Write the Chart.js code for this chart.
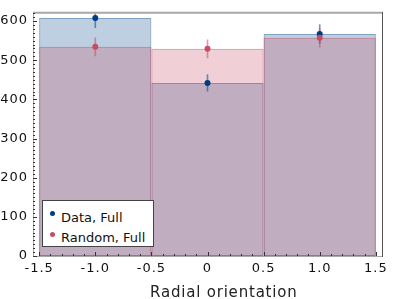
<!DOCTYPE html>
<html>
<head>
<meta charset="utf-8">
<script src="https://cdn.jsdelivr.net/npm/chart.js@4.4.0/dist/chart.umd.min.js"></script>
<style>
  body { margin: 0; background: #fff; }
  #wrap { position: relative; width: 399px; height: 299px; }
  #legend { position: absolute; left: 42px; top: 200px; width: 112px; height: 47px; box-sizing: border-box;
            border: 1px solid #444; background: #fff; font: 13px "DejaVu Sans"; color: #111; }
  .dot { position: absolute; left: 7px; width: 5px; height: 5px; border-radius: 50%; }
  .label { position: absolute; left: 18px; height: 16px; line-height: 16px; white-space: nowrap; }
  #xtitle { position: absolute; left: 150px; top: 283px; height: 18px; line-height: 18px; white-space: nowrap;
            font: 15px "DejaVu Sans"; letter-spacing: 0.8px; color: #222; }
</style>
</head>
<body>
<div id="wrap">
  <canvas id="chart" width="399" height="299"></canvas>
  <div id="xtitle">Radial orientation</div>
  <div id="legend">
    <div class="dot" style="top:10px; background:rgb(0,60,130)"></div>
    <div class="label" style="top:9px">Data, Full</div>
    <div class="dot" style="top:31px; background:rgb(200,76,102)"></div>
    <div class="label" style="top:29px">Random, Full</div>
  </div>
</div>
<script>
const binCenters = [-1.0, 0.0, 1.0];
const dataCounts = [608, 442, 567];
const dataErrors = [25, 21, 24];
const randomCounts = [534, 529, 557];
const randomErrors = [23, 23, 24];
const xTicks = [-1.5, -1.0, -0.5, 0, 0.5, 1.0, 1.5];
const yTicks = [0, 100, 200, 300, 400, 500, 600];

const fontFamily = 'DejaVu Sans';
const textColor = '#111';

// tick spacing is 0.5 and the bin width is 1, so bars are asked for twice the ruler size
const histBar = (label, counts, fill, border, order) => ({
    type: 'bar',
    label: label,
    order: order,
    data: binCenters.map((c, i) => ({ x: c, y: counts[i] })),
    backgroundColor: fill,
    borderColor: border,
    borderWidth: 1,
    borderSkipped: false,
    grouped: false,
    barPercentage: 2,
    categoryPercentage: 1
});

const errorBar = (counts, errors, color, order) => ({
    type: 'bar',
    order: order,
    data: binCenters.map((c, i) => ({ x: c, y: [counts[i] - errors[i], counts[i] + errors[i]] })),
    backgroundColor: color,
    borderWidth: 0,
    grouped: false,
    maxBarThickness: 1,
    barPercentage: 1,
    categoryPercentage: 1
});

const points = (counts, color, order) => ({
    type: 'scatter',
    order: order,
    data: binCenters.map((c, i) => ({ x: c, y: counts[i] })),
    backgroundColor: color,
    borderWidth: 0,
    pointRadius: 3
});

const spacingPlugin = {
    id: 'spacing',
    beforeUpdate(chart) { chart.ctx.letterSpacing = '1px'; },
    beforeDraw(chart) { chart.ctx.letterSpacing = '1px'; }
};

// frame round the plot and small inward ticks
const framePlugin = {
    id: 'frame',
    afterDatasetsDraw(chart) {
        const { ctx, chartArea: a, scales: { x, y } } = chart;
        ctx.save();
        ctx.lineWidth = 1;
        ctx.strokeStyle = '#a8a8a8';
        ctx.beginPath();
        ctx.moveTo(a.left + 0.5, a.top);
        ctx.lineTo(a.left + 0.5, a.bottom + 0.5);
        ctx.lineTo(a.right, a.bottom + 0.5);
        ctx.stroke();
        ctx.lineWidth = 2;
        ctx.beginPath();
        ctx.moveTo(a.left, a.top);
        ctx.lineTo(a.right, a.top);
        ctx.stroke();
        ctx.lineWidth = 1;
        ctx.strokeStyle = '#555';
        ctx.beginPath();
        ctx.moveTo(a.right + 0.5, a.top - 1);
        ctx.lineTo(a.right + 0.5, a.bottom + 1);
        ctx.stroke();

        ctx.strokeStyle = '#333';
        ctx.beginPath();
        for (let v = 0; v <= y.max; v += 10) {
            const py = Math.round(y.getPixelForValue(v)) + 0.5;
            const len = v % 100 === 0 ? 4 : 2;
            ctx.moveTo(a.left, py);
            ctx.lineTo(a.left + len, py);
        }
        for (let k = -15; k <= 15; k++) {
            const px = Math.round(x.getPixelForValue(k / 10)) + 0.5;
            const len = k % 5 === 0 ? 4 : 2;
            ctx.moveTo(px, a.bottom);
            ctx.lineTo(px, a.bottom - len);
        }
        ctx.stroke();
        ctx.restore();
    }
};

new Chart(document.getElementById('chart'), {
    type: 'bar',
    data: {
        datasets: [
            histBar('Data, Full', dataCounts, 'rgba(0,70,136,0.26)', 'rgba(0,70,136,0.5)', 6),
            histBar('Random, Full', randomCounts, 'rgba(197,74,97,0.26)', 'rgba(197,74,97,0.6)', 5),
            errorBar(dataCounts, dataErrors, 'rgba(0,70,140,0.55)', 4),
            errorBar(randomCounts, randomErrors, 'rgba(197,74,97,0.55)', 3),
            points(dataCounts, 'rgb(0,60,130)', 2),
            points(randomCounts, 'rgb(200,76,102)', 1)
        ]
    },
    options: {
        responsive: false,
        animation: false,
        layout: { padding: { top: 8, right: 17, left: 0, bottom: 0 } },
        plugins: {
            legend: { display: false },
            tooltip: { enabled: false }
        },
        scales: {
            x: {
                type: 'linear',
                min: -1.555,
                max: 1.555,
                offset: false,
                afterBuildTicks: s => { s.ticks = xTicks.map(v => ({ value: v })); },
                afterFit: s => { s.height = 43; },
                grid: { display: false, drawTicks: false, offset: false },
                border: { display: false },
                ticks: {
                    padding: 5,
                    color: textColor,
                    maxRotation: 0,
                    autoSkip: false,
                    font: { family: fontFamily, size: 13 },
                    callback: v => v === 0 ? '0' : v.toFixed(1)
                }
            },
            y: {
                min: 0,
                max: 621,
                afterBuildTicks: s => { s.ticks = yTicks.map(v => ({ value: v })); },
                afterFit: s => { s.width = 33; },
                grid: { display: false, drawTicks: false },
                border: { display: false },
                ticks: {
                    padding: 5,
                    color: textColor,
                    font: { family: fontFamily, size: 13 }
                }
            }
        }
    },
    plugins: [spacingPlugin, framePlugin]
});
</script>
</body>
</html>
